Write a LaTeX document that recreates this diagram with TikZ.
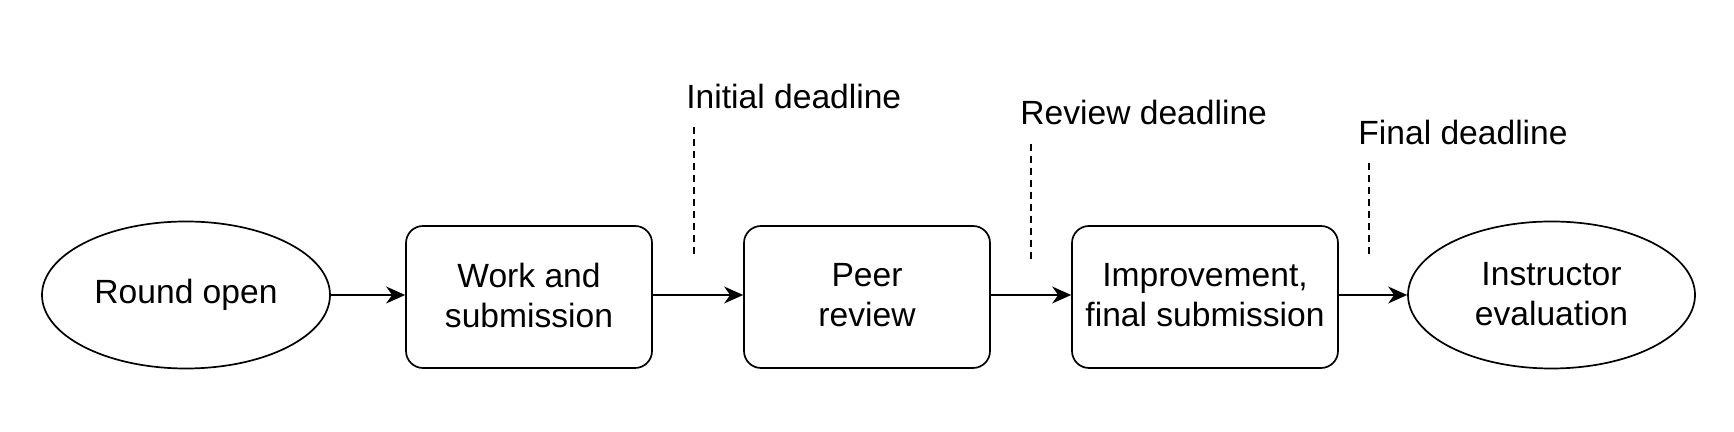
\documentclass[tikz,border=0pt]{standalone}
\usepackage{fontspec}
\setmainfont{Liberation Sans}
\usetikzlibrary{shapes.geometric,arrows.meta}
\begin{document}
\begin{tikzpicture}[x=1pt,y=1pt,
  every node/.style={font=\fontsize{16.8}{20}\selectfont},
  oval/.style={draw,line width=0.85pt,ellipse,inner sep=0pt,align=center},
  stepbox/.style={draw,line width=0.85pt,rounded corners=8.5pt,inner sep=0pt,align=center},
  flow/.style={line width=0.85pt,-{Stealth[length=9.5pt,width=8.5pt,inset=3pt]}},
  dl/.style={line width=0.7pt,dash pattern=on 3.5pt off 2.5pt},
  lab/.style={anchor=west,inner sep=0pt}]
\useasboundingbox (0,0) rectangle (867,216);
\node[oval,minimum width=144pt,minimum height=73.5pt] (a) at (93,68.5) {Round open};
\node[stepbox,minimum width=123pt,minimum height=71pt] (b) at (264.5,67.5) {};
\node[stepbox,minimum width=123pt,minimum height=71pt] (c) at (433.5,67.5) {};
\node[stepbox,minimum width=133pt,minimum height=71pt] (d) at (602.5,67.5) {};
\node[oval,minimum width=143.5pt,minimum height=73.5pt] (e) at (775.75,68.5) {};
\node[align=center] at (264.5,68.5) {Work and\\submission};
\node[align=center] at (433.5,68.5) {Peer\\review};
\node[align=center] at (602.5,68.5) {Improvement,\\final submission};
\node[align=center] at (775.75,69) {Instructor\\evaluation};
\draw[flow] (a.east) -- (a.east -| b.west);
\draw[flow] (b.east |- a.east) -- (a.east -| c.west);
\draw[flow] (c.east |- a.east) -- (a.east -| d.west);
\draw[flow] (d.east |- a.east) -- (a.east -| e.west);
\node[lab] (l1) at (343,167.5) {Initial deadline};
\node[lab] (l2) at (510,159.5) {Review deadline};
\node[lab] (l3) at (679,149.5) {Final deadline};
\coordinate (t1) at (347,152.5); \coordinate (u1) at (347,87.5);
\coordinate (t2) at (515.5,144); \coordinate (u2) at (515.5,86);
\coordinate (t3) at (684.5,134.5); \coordinate (u3) at (684.5,89);
\draw[dl] (t1) -- (u1);
\draw[dl] (t2) -- (u2);
\draw[dl] (t3) -- (u3);
\end{tikzpicture}
\end{document}
